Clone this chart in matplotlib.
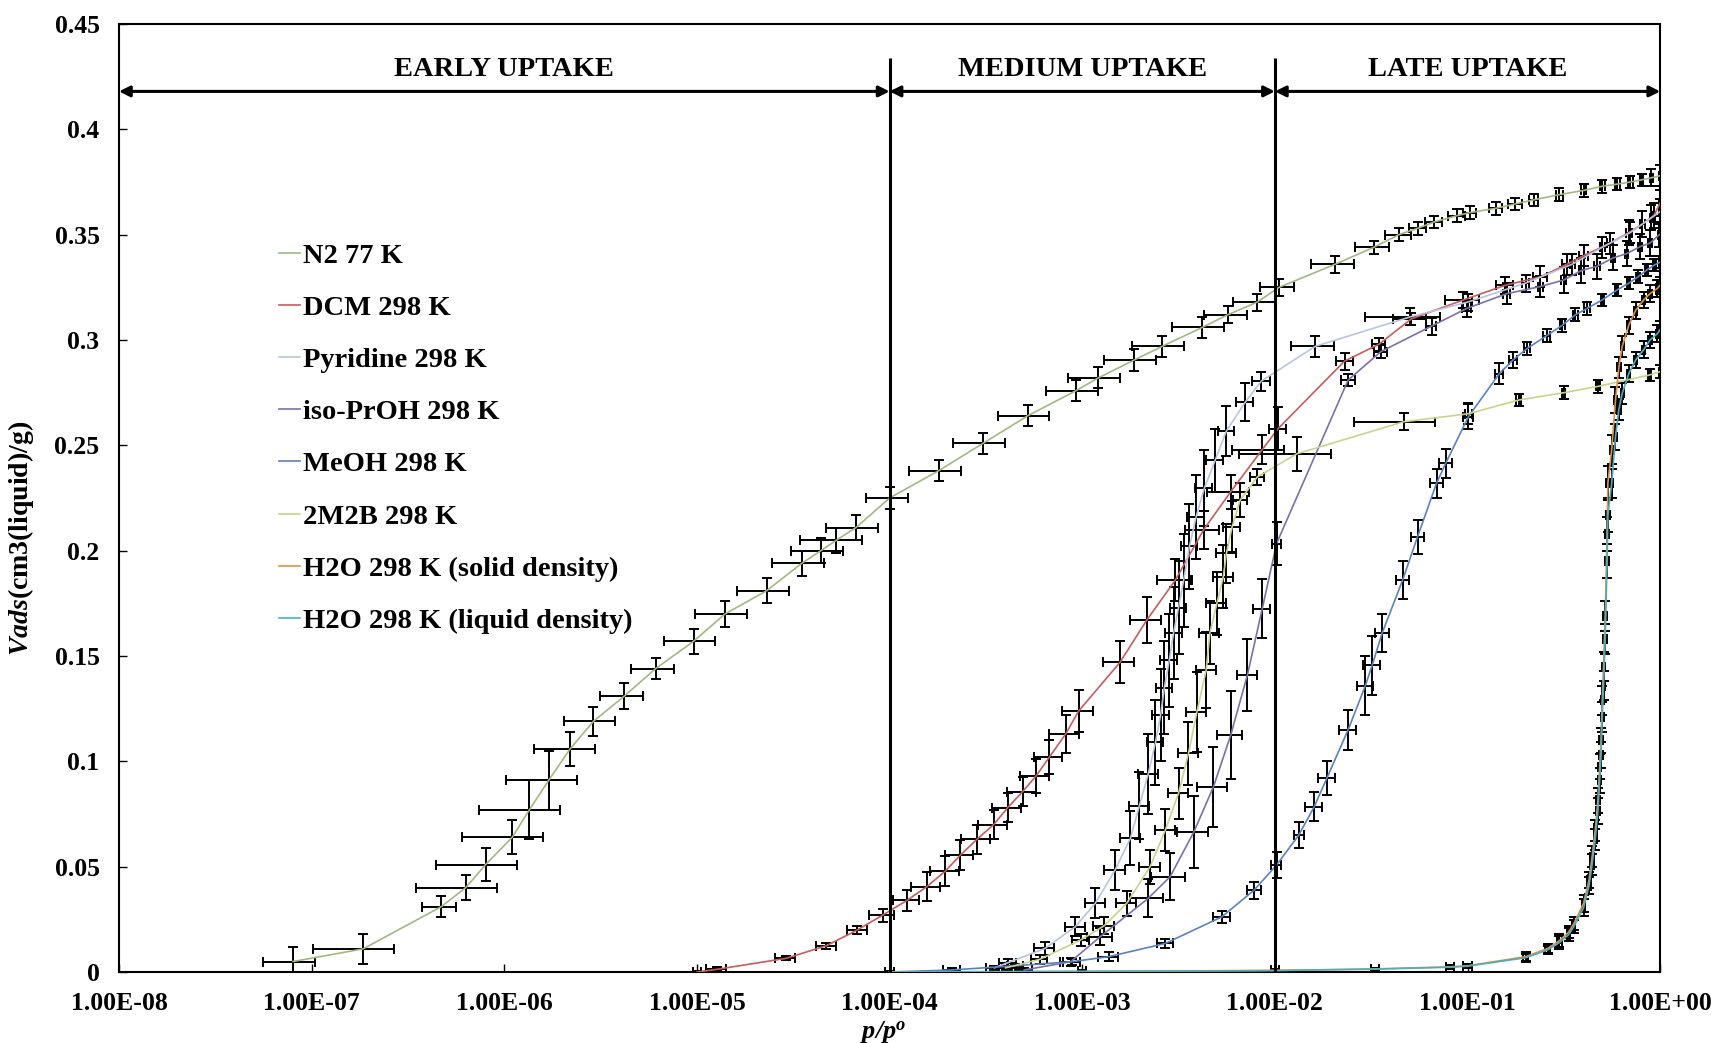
import matplotlib
matplotlib.use("Agg")
import matplotlib.pyplot as plt
import numpy as np

plt.rcParams['font.family'] = ['Liberation Serif', 'DejaVu Serif']
plt.rcParams['font.weight'] = 'bold'
plt.rcParams['mathtext.fontset'] = 'custom'
plt.rcParams['mathtext.rm'] = 'Liberation Serif:bold'
plt.rcParams['mathtext.it'] = 'Liberation Serif:italic:bold'
plt.rcParams['mathtext.bfit'] = 'Liberation Serif:italic:bold'

# N2 77 K
n2_x = [8.0e-8, 1.85e-7, 4.7e-7, 6.3e-7, 8.0e-7, 1.1e-6, 1.35e-6, 1.7e-6, 2.2e-6, 2.9e-6,
        4.2e-6, 6.1e-6, 9.6e-6, 1.4e-5, 2.3e-5, 3.5e-5, 4.4e-5, 5.3e-5, 6.7e-5, 1.0e-4,
        1.8e-4, 3.06e-4, 5.2e-4, 9.3e-4, 1.21e-3, 1.86e-3, 2.6e-3, 4.2e-3, 5.7e-3, 8.1e-3,
        1.05e-2, 2.06e-2, 3.26e-2, 4.4e-2, 5.5e-2, 6.7e-2, 8.8e-2, 0.103, 0.14, 0.177,
        0.22, 0.3, 0.4, 0.5, 0.6, 0.7, 0.8, 0.9, 1.0]
n2_y = [0.005, 0.011, 0.031, 0.040, 0.051, 0.064, 0.077, 0.091, 0.106, 0.119,
        0.131, 0.144, 0.157, 0.170, 0.181, 0.194, 0.200, 0.205, 0.211, 0.225,
        0.238, 0.251, 0.264, 0.276, 0.282, 0.2905, 0.297, 0.306, 0.312, 0.318,
        0.325, 0.336, 0.344, 0.350, 0.353, 0.356, 0.359, 0.3605, 0.3625, 0.3646,
        0.3665, 0.369, 0.371, 0.373, 0.374, 0.375, 0.376, 0.377, 0.378]
n2_xf = [0.3, 0.45, 0.2, 0.45, 0.45, 0.45, 0.45, 0.4, 0.35, 0.3,
         0.25, 0.25, 0.3, 0.3, 0.3, 0.3, 0.3, 0.35, 0.3, 0.25,
         0.3, 0.3, 0.3, 0.3, 0.3, 0.3, 0.3, 0.3, 0.25, 0.25,
         0.2, 0.25, 0.2, 0.15, 0.1, 0.1, 0.1, 0.08, 0.08, 0.08,
         0.05, 0.04, 0.03, 0.03, 0.03, 0.03, 0.02, 0.02, 0.02]
n2_ye = [0.007, 0.007, 0.005, 0.006, 0.008, 0.008, 0.014, 0.014, 0.008, 0.007,
         0.006, 0.005, 0.006, 0.006, 0.006, 0.006, 0.006, 0.006, 0.006, 0.005,
         0.005, 0.005, 0.005, 0.005, 0.005, 0.005, 0.005, 0.005, 0.004, 0.004,
         0.004, 0.004, 0.003, 0.003, 0.003, 0.003, 0.003, 0.003, 0.003, 0.003,
         0.003, 0.003, 0.003, 0.003, 0.003, 0.003, 0.003, 0.004, 0.005]

# DCM 298 K
dcm_x = [1.0e-5, 1.27e-5, 2.9e-5, 4.7e-5, 6.8e-5, 9.2e-5, 1.23e-4, 1.56e-4, 1.95e-4, 2.33e-4,
         2.84e-4, 3.47e-4, 4.1e-4, 4.9e-4, 5.75e-4, 6.75e-4, 8.2e-4, 9.6e-4, 1.57e-3, 2.16e-3,
         3.04e-3, 4.27e-3, 5.9e-3, 8.6e-3, 1.04e-2, 2.3e-2, 3.47e-2, 5.1e-2, 9.5e-2, 0.157,
         0.239, 0.329, 0.40, 0.55, 0.687, 0.805, 0.925, 1.0]
dcm_y = [0.0, 0.0013, 0.0065, 0.0125, 0.020, 0.027, 0.034, 0.0405, 0.048, 0.0555,
         0.063, 0.070, 0.078, 0.0856, 0.093, 0.102, 0.113, 0.124, 0.147, 0.167,
         0.186, 0.210, 0.228, 0.248, 0.258, 0.290, 0.298, 0.310, 0.319, 0.326,
         0.330, 0.336, 0.340, 0.346, 0.351, 0.355, 0.359, 0.365]
dcm_xf = [0.05, 0.12, 0.12, 0.12, 0.12, 0.15, 0.15, 0.17, 0.17, 0.17,
          0.17, 0.17, 0.17, 0.17, 0.17, 0.17, 0.18, 0.18, 0.18, 0.18,
          0.2, 0.2, 0.25, 0.3, 0.1, 0.1, 0.08, 0.2, 0.2, 0.1,
          0.08, 0.06, 0.05, 0.04, 0.03, 0.03, 0.02, 0.02]
dcm_ye = [0.0005, 0.001, 0.001, 0.0015, 0.002, 0.003, 0.005, 0.007, 0.007, 0.007,
          0.007, 0.007, 0.007, 0.007, 0.008, 0.008, 0.009, 0.01, 0.01, 0.011,
          0.01, 0.009, 0.008, 0.007, 0.01, 0.004, 0.003, 0.003, 0.004, 0.004,
          0.005, 0.005, 0.005, 0.005, 0.006, 0.006, 0.006, 0.006]

# Pyridine 298 K
pyr_x = [3.5e-4, 4.1e-4, 6.4e-4, 9.2e-4, 1.17e-3, 1.48e-3, 1.78e-3, 1.98e-3, 2.2e-3, 2.4e-3,
         2.55e-3, 2.67e-3, 2.83e-3, 2.98e-3, 3.16e-3, 3.36e-3, 3.6e-3, 3.9e-3, 4.3e-3, 4.9e-3,
         5.6e-3, 7.0e-3, 8.5e-3, 1.62e-2, 5.05e-2, 0.1, 0.2, 0.35, 0.5, 0.7,
         0.9, 1.0]
pyr_y = [0.002, 0.0044, 0.0112, 0.0215, 0.0327, 0.0484, 0.0636, 0.079, 0.094, 0.109,
         0.122, 0.135, 0.148, 0.161, 0.173, 0.186, 0.202, 0.216, 0.2296, 0.243,
         0.2568, 0.2704, 0.2805, 0.297, 0.311, 0.318, 0.327, 0.336, 0.344, 0.351,
         0.358, 0.361]
pyr_xf = [0.1, 0.1, 0.12, 0.12, 0.12, 0.12, 0.12, 0.12, 0.12, 0.1,
          0.1, 0.1, 0.1, 0.1, 0.1, 0.1, 0.1, 0.1, 0.1, 0.1,
          0.1, 0.1, 0.11, 0.25, 0.42, 0.05, 0.04, 0.03, 0.03, 0.02,
          0.02, 0.02]
pyr_ye = [0.001, 0.002, 0.003, 0.0045, 0.007, 0.0095, 0.013, 0.016, 0.019, 0.02,
          0.022, 0.022, 0.022, 0.022, 0.022, 0.022, 0.02, 0.02, 0.018, 0.015,
          0.012, 0.009, 0.0045, 0.005, 0.004, 0.004, 0.004, 0.005, 0.005, 0.005,
          0.006, 0.006]

# iso-PrOH 298 K
ipa_x = [5.0e-4, 8.7e-4, 1.24e-3, 2.2e-3, 2.86e-3, 3.8e-3, 4.8e-3, 5.9e-3, 7.2e-3, 8.6e-3,
         1.02e-2, 2.4e-2, 3.55e-2, 6.5e-2, 0.099, 0.16, 0.239, 0.316, 0.39, 0.47,
         0.57, 0.67, 0.785, 0.885, 0.99]
ipa_y = [0.001, 0.0049, 0.0168, 0.035, 0.0453, 0.0666, 0.088, 0.1125, 0.141, 0.1725,
         0.2034, 0.281, 0.2945, 0.3066, 0.315, 0.322, 0.3254, 0.3285, 0.333, 0.335,
         0.339, 0.341, 0.3443, 0.346, 0.350]
ipa_xf = [0.1, 0.12, 0.15, 0.2, 0.2, 0.18, 0.18, 0.15, 0.12, 0.1,
          0.05, 0.08, 0.08, 0.06, 0.05, 0.04, 0.03, 0.03, 0.03, 0.03,
          0.02, 0.02, 0.02, 0.02, 0.02]
ipa_ye = [0.001, 0.002, 0.004, 0.009, 0.011, 0.017, 0.019, 0.021, 0.017, 0.014,
          0.01, 0.003, 0.003, 0.004, 0.004, 0.005, 0.005, 0.006, 0.006, 0.006,
          0.006, 0.006, 0.006, 0.006, 0.006]

# MeOH 298 K
meoh_x = [1.0e-4, 2.1e-4, 4.5e-4, 8.8e-4, 1.37e-3, 2.7e-3, 5.3e-3, 7.8e-3, 1.02e-2, 1.33e-2,
          1.6e-2, 1.86e-2, 2.4e-2, 2.95e-2, 3.2e-2, 3.6e-2, 4.6e-2, 5.5e-2, 6.9e-2, 7.7e-2,
          0.101, 0.146, 0.172, 0.204, 0.257, 0.31, 0.363, 0.417, 0.50, 0.595,
          0.687, 0.768, 0.85, 0.934, 1.0]
meoh_y = [0.0, 0.001, 0.003, 0.0049, 0.0073, 0.0136, 0.0262, 0.0389, 0.0508, 0.065,
          0.0785, 0.092, 0.115, 0.136, 0.1457, 0.1608, 0.186, 0.2066, 0.232, 0.2415,
          0.2636, 0.284, 0.2905, 0.296, 0.302, 0.307, 0.312, 0.315, 0.319, 0.3237,
          0.327, 0.330, 0.3332, 0.3356, 0.337]
meoh_xf = [0.05, 0.1, 0.1, 0.1, 0.12, 0.1, 0.1, 0.08, 0.06, 0.06,
           0.1, 0.1, 0.1, 0.1, 0.1, 0.08, 0.08, 0.08, 0.08, 0.08,
           0.06, 0.05, 0.05, 0.04, 0.04, 0.03, 0.03, 0.03, 0.02, 0.02,
           0.02, 0.02, 0.02, 0.02, 0.02]
meoh_ye = [0.0005, 0.001, 0.001, 0.0015, 0.002, 0.002, 0.003, 0.004, 0.006, 0.006,
           0.007, 0.008, 0.0095, 0.014, 0.014, 0.009, 0.009, 0.008, 0.007, 0.007,
           0.006, 0.005, 0.004, 0.003, 0.003, 0.003, 0.003, 0.003, 0.003, 0.003,
           0.003, 0.003, 0.003, 0.003, 0.003]

# 2M2B 298 K
m2b_x = [4.0e-4, 6.0e-4, 9.8e-4, 1.3e-3, 1.7e-3, 2.25e-3, 2.7e-3, 3.16e-3, 3.56e-3, 3.94e-3,
         4.4e-3, 4.6e-3, 5.0e-3, 5.4e-3, 5.6e-3, 6.0e-3, 6.6e-3, 8.1e-3, 1.3e-2, 4.66e-2,
         0.101, 0.184, 0.316, 0.476, 0.88, 1.0]
m2b_y = [0.002, 0.006, 0.0152, 0.022, 0.0326, 0.050, 0.0674, 0.0848, 0.1038, 0.1236,
         0.1434, 0.161, 0.175, 0.1877, 0.1987, 0.2114, 0.224, 0.235, 0.246, 0.2612,
         0.265, 0.2715, 0.275, 0.278, 0.2834, 0.285]
m2b_xf = [0.08, 0.1, 0.1, 0.12, 0.12, 0.12, 0.12, 0.12, 0.12, 0.12,
          0.12, 0.12, 0.12, 0.12, 0.12, 0.1, 0.08, 0.08, 0.5, 0.45,
          0.04, 0.03, 0.02, 0.02, 0.02, 0.02]
m2b_ye = [0.001, 0.002, 0.003, 0.004, 0.006, 0.008, 0.01, 0.012, 0.015, 0.019,
          0.018, 0.015, 0.015, 0.015, 0.014, 0.012, 0.008, 0.004, 0.008, 0.004,
          0.005, 0.003, 0.003, 0.003, 0.003, 0.003]

# H2O 298 K, solid and liquid density
h2o_x = [1.0e-4, 1.0e-3, 1.0e-2, 3.3e-2, 8.1e-2, 0.1, 0.2, 0.26, 0.30, 0.335, 0.356,
         0.40, 0.427, 0.443, 0.46, 0.475, 0.485, 0.493, 0.50, 0.508, 0.518,
         0.53, 0.535, 0.56, 0.586, 0.61, 0.635, 0.687, 0.745, 0.82, 0.885,
         0.966, 1.0]
h2o_s_y = [0.0, 0.0003, 0.0008, 0.0015, 0.0025, 0.003, 0.0073, 0.0112, 0.0149, 0.019, 0.023,
           0.0326, 0.0437, 0.0547, 0.0674, 0.0816, 0.0975, 0.110, 0.129, 0.145, 0.169,
           0.208, 0.232, 0.248, 0.2715, 0.287, 0.297, 0.307, 0.314, 0.319, 0.322,
           0.3245, 0.326]
h2o_l_y = [0.0, 0.0003, 0.0007, 0.0014, 0.0023, 0.0028, 0.0068, 0.0105, 0.014, 0.0178, 0.0215,
           0.0305, 0.041, 0.051, 0.063, 0.0765, 0.091, 0.103, 0.121, 0.136, 0.158,
           0.195, 0.217, 0.232, 0.254, 0.267, 0.2747, 0.284, 0.2905, 0.2953, 0.300,
           0.303, 0.305]
h2o_xf = [0.0, 0.05, 0.05, 0.05, 0.05, 0.05, 0.03, 0.03, 0.03, 0.02, 0.02,
          0.02, 0.02, 0.02, 0.02, 0.02, 0.02, 0.02, 0.02, 0.02, 0.02,
          0.02, 0.02, 0.02, 0.02, 0.02, 0.02, 0.02, 0.02, 0.02, 0.02,
          0.02, 0.02]
h2o_ye = [0.0, 0.0005, 0.0005, 0.0005, 0.001, 0.001, 0.002, 0.002, 0.003, 0.003, 0.003,
          0.004, 0.004, 0.005, 0.005, 0.006, 0.006, 0.006, 0.007, 0.007, 0.007,
          0.008, 0.008, 0.007, 0.006, 0.005, 0.005, 0.004, 0.004, 0.004, 0.004,
          0.004, 0.004]

series = [
    ("N2 77 K", n2_x, n2_y, n2_xf, n2_ye, '#a3b77e'),
    ("DCM 298 K", dcm_x, dcm_y, dcm_xf, dcm_ye, '#c85c5c'),
    ("Pyridine 298 K", pyr_x, pyr_y, pyr_xf, pyr_ye, '#b8c4e0'),
    ("iso-PrOH 298 K", ipa_x, ipa_y, ipa_xf, ipa_ye, '#7d6fa8'),
    ("MeOH 298 K", meoh_x, meoh_y, meoh_xf, meoh_ye, '#5b82c0'),
    ("2M2B 298 K", m2b_x, m2b_y, m2b_xf, m2b_ye, '#c9d48a'),
    ("H2O 298 K (solid density)", h2o_x, h2o_s_y, h2o_xf, h2o_ye, '#e0913e'),
    ("H2O 298 K (liquid density)", h2o_x, h2o_l_y, h2o_xf, h2o_ye, '#4aaec4'),
]

regions = ["EARLY UPTAKE", "MEDIUM UPTAKE", "LATE UPTAKE"]
region_edges = [1e-8, 1e-4, 1e-2, 1e0]

fig = plt.figure(figsize=(17.24, 10.43), dpi=100)
ax = fig.add_axes([0.069, 0.068, 0.894, 0.909])

for name, x, y, xf, ye, col in series:
    x = np.array(x)
    ax.errorbar(x, y, xerr=x * np.array(xf), yerr=ye, fmt='none', ecolor='black',
                elinewidth=1.4, capsize=3.5, capthick=1.4, zorder=2)
    ax.plot(x, y, color=col, lw=1.2, label=name, zorder=3)

# region boundaries and arrows
ax.vlines(region_edges[1:3], 0, 0.434, colors='black', lw=2.2, zorder=4)
for i, lab in enumerate(regions):
    a, b = region_edges[i], region_edges[i + 1]
    ax.annotate('', xy=(a, 0.418), xytext=(b, 0.418),
                arrowprops=dict(arrowstyle='<|-|>', lw=2.2, color='black', mutation_scale=16,
                                shrinkA=0, shrinkB=0))
    ax.text(np.sqrt(a * b), 0.4286, lab, ha='center', va='center', fontsize=20.5, fontweight='bold')

ax.set_xscale('log')
ax.set_xlim(1e-8, 1e0)
ax.set_ylim(0, 0.45)
ax.set_xticks([10.0 ** k for k in range(-8, 1)])
ax.set_xticklabels(["1.00E%+03d" % k if k < 0 else "1.00E+00" for k in range(-8, 1)])
ax.xaxis.set_minor_locator(matplotlib.ticker.NullLocator())
ax.set_yticks(np.arange(0, 0.46, 0.05))
ax.set_yticklabels(["0", "0.05", "0.1", "0.15", "0.2", "0.25", "0.3", "0.35", "0.4", "0.45"])
ax.tick_params(direction='in', length=6, width=1, labelsize=18.5, pad=14)
ax.tick_params(axis='y', pad=14)
for sp in ax.spines.values():
    sp.set_linewidth(1.5)

ax.set_xlabel(r'$\bfit{p/p}^{\bfit{o}}$', fontsize=19)
ax.xaxis.set_label_coords(0.496, -0.05)
ax.set_ylabel(r'$\bfit{Vads}$(cm3(liquid)/g)', fontsize=20, fontweight='bold')
ax.yaxis.set_label_coords(-0.054, 0.457)

ax.legend(loc='upper left', bbox_to_anchor=(0.087, 0.796), frameon=False,
          handlelength=0.75, handletextpad=0.1, labelspacing=0.92,
          prop={'family': 'Liberation Serif', 'weight': 'bold', 'size': 20.5})

fig.savefig('out.png', dpi=100)
